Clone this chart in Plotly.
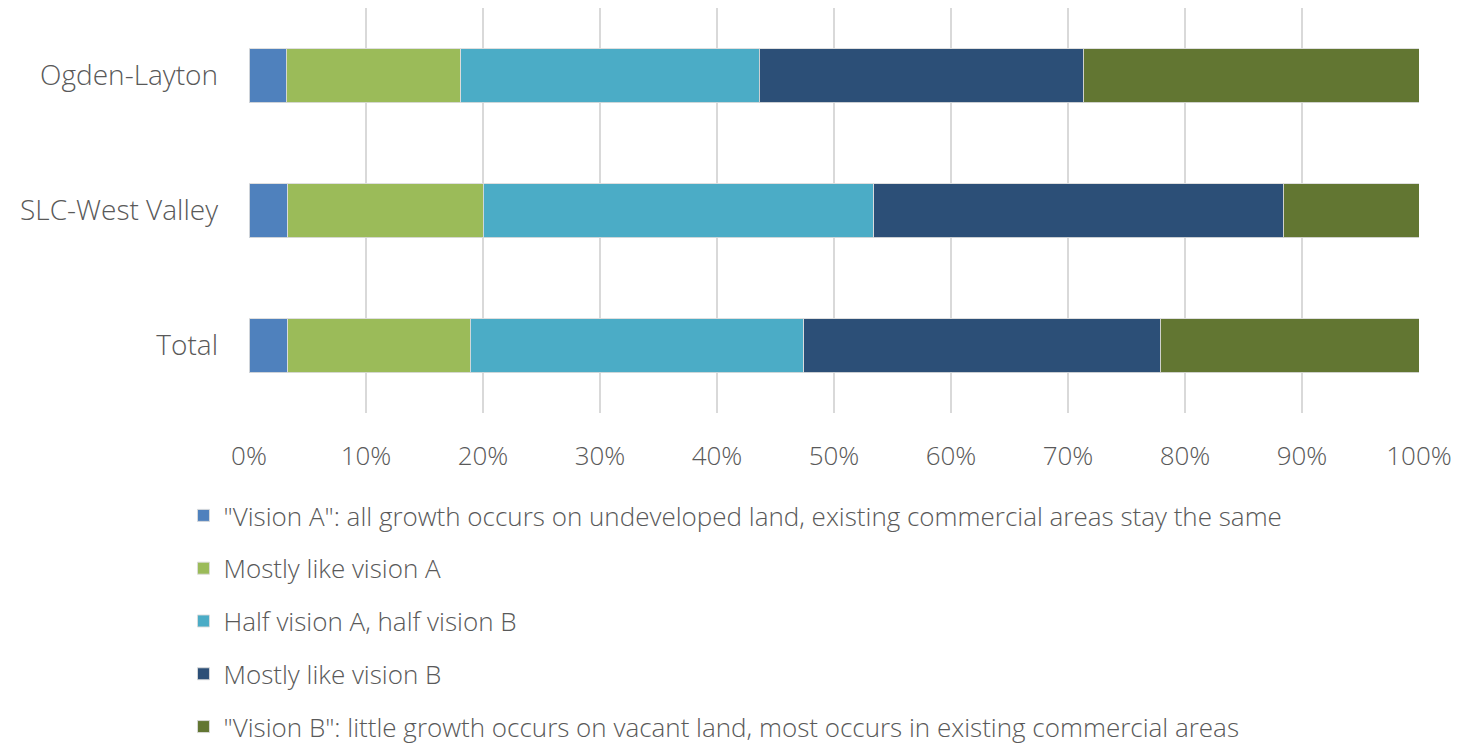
import plotly.graph_objects as go

categories = ["Ogden-Layton", "SLC-West Valley", "Total"]
series_names = [
    "\"Vision A\": all growth occurs on undeveloped land, existing commercial areas stay the same",
    "Mostly like vision A",
    "Half vision A, half vision B",
    "Mostly like vision B",
    "\"Vision B\": little growth occurs on vacant land, most occurs in existing commercial areas",
]
vision_a = [3.2, 3.3, 3.3]
mostly_a = [14.9, 16.7, 15.6]
half_ab = [25.5, 33.4, 28.5]
mostly_b = [27.7, 35.0, 30.5]
vision_b = [28.7, 11.6, 22.1]
series_values = [vision_a, mostly_a, half_ab, mostly_b, vision_b]
colors = ["#4F81BD", "#9BBB59", "#4BACC6", "#2C4F77", "#627632"]

FONT = "Open Sans"
TXT = "#595959"

fig = go.Figure()
for i, (name, vals, col) in enumerate(zip(series_names, series_values, colors)):
    fig.add_trace(go.Bar(
        y=categories, x=[v / 100 for v in vals], name=name, orientation="h",
        marker=dict(color=col, line=dict(color="rgba(220,220,220,0.9)", width=1)),
        legendgroup=f"g{i}",
    ))

fig.update_layout(
    barmode="stack", bargap=0.6,
    width=1464, height=745,
    margin=dict(l=241, r=53, t=0, b=340, autoexpand=False),
    plot_bgcolor="white", paper_bgcolor="white",
    font=dict(family=FONT, size=22, color=TXT),
    showlegend=True,
    legend=dict(orientation="v", x=-0.056, xanchor="left", y=-0.195, yanchor="top",
                traceorder="grouped", tracegroupgap=16,
                font=dict(family=FONT, size=26, color=TXT, weight=300)),
    xaxis=dict(range=[0, 1], tickformat=".0%", dtick=0.1, showgrid=True,
               gridcolor="#D9D9D9", gridwidth=1.5, zeroline=False, showline=False,
               ticks="", ticklabelstandoff=25,
               tickfont=dict(size=26, color=TXT, weight=300)),
    yaxis=dict(autorange="reversed", showgrid=False, showline=False, ticks="",
               ticklabelstandoff=30, tickfont=dict(size=28, color=TXT, weight=300)),
)

fig.write_html("out.html")
